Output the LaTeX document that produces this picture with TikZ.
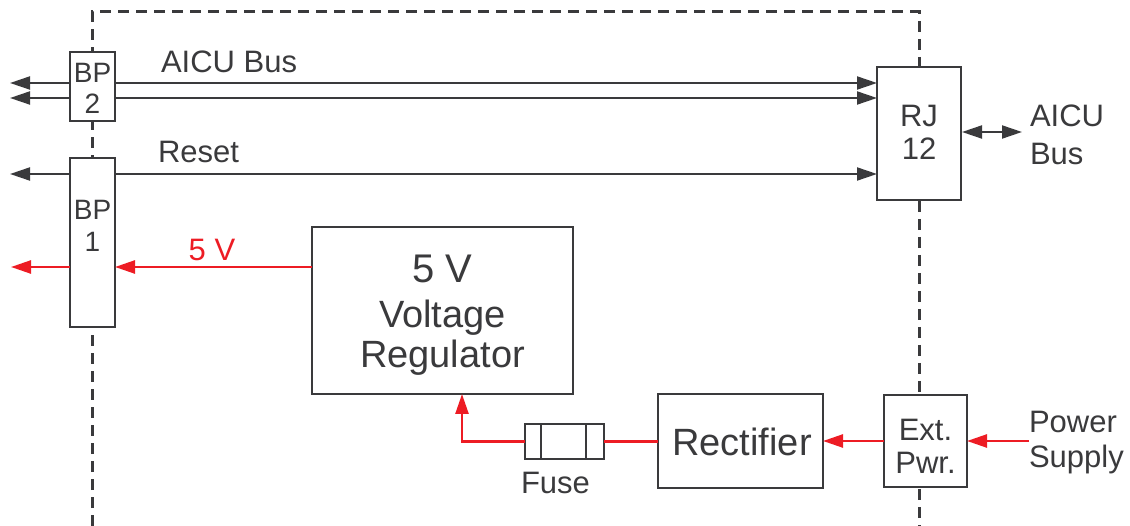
\documentclass[tikz,border=0pt]{standalone}
\usepackage{fontspec}
\setmainfont{Liberation Sans}
\usetikzlibrary{arrows.meta}
\definecolor{ink}{HTML}{3A3A3C}
\definecolor{pred}{HTML}{ED1C24}
\begin{document}
\begin{tikzpicture}[x=1pt,y=-1pt,
  box/.style={draw=ink,line width=2pt,fill=white,inner sep=0pt,outer sep=0pt},
  txt/.style={text=ink,inner sep=0pt,outer sep=0pt,font=\fontsize{31}{35}\selectfont},
  bptxt/.style={txt,font=\fontsize{28}{32}\selectfont},
  bigtxt/.style={txt,font=\fontsize{38}{42}\selectfont},
  hugetxt/.style={txt,font=\fontsize{40}{44}\selectfont},
  redtxt/.style={txt,text=pred},
  wire/.style={draw=ink,line width=2pt},
  redwire/.style={draw=pred,line width=2.5pt},
  tipend/.style={-{Triangle[length=20pt,width=13pt]}},
  tipboth/.style={{Triangle[length=20pt,width=13pt]}-{Triangle[length=20pt,width=13pt]}},
  frame/.style={draw=ink,line width=3pt,dash pattern=on 11pt off 7pt}
]
\useasboundingbox (0,0) rectangle (1130,526);
% dashed enclosure
\draw[frame] (92,526) -- (92,12) -- (919,12) -- (919,526);

% boxes
\node[box,minimum width=45pt,minimum height=69pt] (bp2) at (92.5,86.5) {};
\node[box,minimum width=45pt,minimum height=169pt] (bp1) at (92.5,242.5) {};
\node[box,minimum width=84pt,minimum height=133pt] (rj) at (919,133.5) {};
\node[box,minimum width=261pt,minimum height=167pt] (reg) at (442.5,310.5) {};
\node[box,minimum width=79pt,minimum height=35pt] (fuse) at (564.5,441.5) {};
\node[box,minimum width=165pt,minimum height=94pt] (rect) at (740.5,441) {};
\node[box,minimum width=83pt,minimum height=92pt] (ext) at (925.5,441) {};
\draw[wire] ([xshift=16pt]fuse.north west) -- ([xshift=16pt]fuse.south west);
\draw[wire] ([xshift=-18pt]fuse.north east) -- ([xshift=-18pt]fuse.south east);

% texts
\node[bptxt,anchor=base] (bp2a) at (92.5,83) {BP};
\node[bptxt,anchor=base] (bp2b) at (92.5,114) {2};
\node[bptxt,anchor=base] (bp1a) at (92.5,220) {BP};
\node[bptxt,anchor=base] (bp1b) at (92.5,252) {1};
\node[txt,anchor=base west] (lbus) at (161,73) {AICU Bus};
\node[txt,anchor=base west] (lrst) at (158,163) {Reset};
\node[txt,anchor=base] (rja) at (919,127) {RJ};
\node[txt,anchor=base] (rjb) at (919,160) {12};
\node[txt,anchor=base west] (rbusa) at (1030,127) {AICU};
\node[txt,anchor=base west] (rbusb) at (1030,165) {Bus};
\node[redtxt,anchor=base] (l5v) at (212,261) {5 V};
\node[hugetxt,anchor=base] (rega) at (442.5,283) {5 V};
\node[bigtxt,anchor=base] (regb) at (442.5,328) {Voltage};
\node[bigtxt,anchor=base] (regc) at (442.5,368) {Regulator};
\node[bigtxt,anchor=base] (recta) at (742,455) {Rectifier};
\node[txt,anchor=base] (exta) at (925.5,440) {Ext.};
\node[txt,anchor=base] (extb) at (925.5,473) {Pwr.};
\node[txt,anchor=base west] (psa) at (1029,432) {Power};
\node[txt,anchor=base west] (psb) at (1029,467) {Supply};
\node[txt,anchor=base] (lfuse) at (555.5,493) {Fuse};

% free ends
\coordinate (busA) at (10,83);
\coordinate (busB) at (10,98);
\coordinate (rstL) at (10,174);
\coordinate (v5L) at (11,267);
\coordinate (rjout) at (1022,132);
\coordinate (regin) at (462,394);
\coordinate (psin) at (1029,441);

% black connectors
\draw[wire,tipend] (bp2.west |- busA) -- (busA);
\draw[wire,tipend] (bp2.west |- busB) -- (busB);
\draw[wire,tipend] (bp2.east |- busA) -- (rj.west |- busA);
\draw[wire,tipend] (bp2.east |- busB) -- (rj.west |- busB);
\draw[wire,tipend] (bp1.west |- rstL) -- (rstL);
\draw[wire,tipend] (bp1.east |- rstL) -- (rj.west |- rstL);
\draw[wire,tipboth] ([xshift=1pt]rj.east |- rjout) -- (rjout);

% red connectors
\draw[redwire,tipend] (reg.west |- v5L) -- (bp1.east |- v5L);
\draw[redwire,tipend] (bp1.west |- v5L) -- (v5L);
\draw[redwire,tipend] (fuse.west) -| (regin);
\draw[redwire] (fuse.east) -- (rect.west |- fuse.east);
\draw[redwire,tipend] (ext.west) -- (rect.east);
\draw[redwire,tipend] (psin) -- (ext.east);
\end{tikzpicture}
\end{document}
